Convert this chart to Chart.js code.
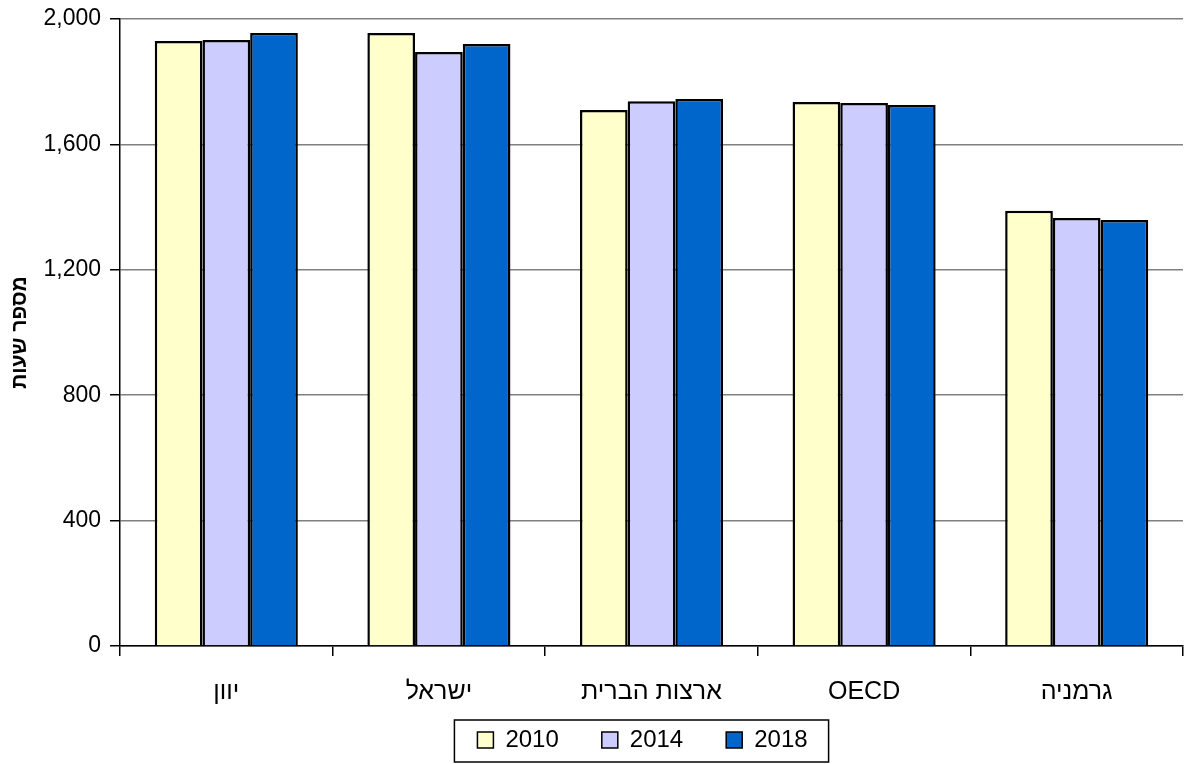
<!DOCTYPE html>
<html>
<head>
<meta charset="utf-8">
<script src="https://cdn.jsdelivr.net/npm/chart.js@4.4.1/dist/chart.umd.min.js"></script>
<style>
  html, body { margin: 0; padding: 0; background: #fff; }
  #wrap { width: 1184px; height: 764px; }
</style>
</head>
<body>
<div id="wrap"><canvas id="chart" width="1184" height="764"></canvas></div>
<script>
const categories = ['יוון', 'ישראל', 'ארצות הברית', 'OECD', 'גרמניה'];
const years = ['2010', '2014', '2018'];
const hours2010 = [1930, 1955, 1710, 1735, 1388];
const hours2014 = [1933, 1895, 1738, 1732, 1365];
const hours2018 = [1955, 1920, 1745, 1726, 1359];
const yTicks = [0, 400, 800, 1200, 1600, 2000];
const colors = ['#FFFFCC', '#CCCCFF', '#0066CC'];

const FONT = 'Liberation Sans, Arial, sans-serif';
const LEGEND_SHIFT = 51;

// moves the legend a bit to the right, and lets the x labels run into the legend's space
const legendShift = {
  id: 'legendShift',
  afterLayout(chart) {
    chart.legend.left += LEGEND_SHIFT;
    chart.legend.right += LEGEND_SHIFT;
    chart.scales.x.bottom += 30;
    chart.scales.x.height += 30;
  }
};

// draws the black frame round the legend items
const legendFrame = {
  id: 'legendFrame',
  afterDraw(chart) {
    const boxes = chart.legend.legendHitBoxes;
    if (!boxes || !boxes.length) return;
    const ctx = chart.ctx;
    const left = Math.min(...boxes.map(b => b.left)) - 23;
    const right = Math.max(...boxes.map(b => b.left + b.width)) + 21;
    const top = Math.min(...boxes.map(b => b.top)) - 8;
    const bottom = Math.max(...boxes.map(b => b.top + b.height)) + 10;
    ctx.save();
    ctx.strokeStyle = '#000';
    ctx.lineWidth = 1.5;
    ctx.strokeRect(left, top, right - left, bottom - top);
    ctx.restore();
  }
};

const ctx = document.getElementById('chart').getContext('2d');
new Chart(ctx, {
  type: 'bar',
  data: {
    labels: categories,
    datasets: [hours2010, hours2014, hours2018].map((d, i) => ({
      label: years[i],
      data: d,
      backgroundColor: colors[i],
      borderColor: '#000',
      borderWidth: 2.5,
      categoryPercentage: 0.673,
      barPercentage: 1.0
    }))
  },
  options: {
    responsive: false,
    animation: false,
    layout: { padding: { top: 19, right: 1, left: 0, bottom: 2 } },
    plugins: {
      legend: {
        position: 'bottom',
        labels: {
          font: { family: FONT, size: 24 },
          color: '#000',
          boxWidth: 16,
          boxHeight: 16,
          padding: 43,
          generateLabels(chart) {
            return chart.data.datasets.map((ds, i) => ({
              text: ds.label,
              fillStyle: ds.backgroundColor,
              strokeStyle: '#000',
              lineWidth: 1.5,
              datasetIndex: i,
              fontColor: '#000'
            }));
          }
        }
      },
      tooltip: { enabled: false }
    },
    scales: {
      x: {
        afterFit(scale) { scale.height = 39; },
        border: { color: '#000', width: 1.5 },
        grid: {
          offset: true,
          drawOnChartArea: false,
          drawTicks: true,
          tickLength: 10,
          color: '#000',
          lineWidth: 1.5
        },
        ticks: {
          font: { family: FONT, size: 25 },
          color: '#000',
          padding: 21
        }
      },
      y: {
        min: 0,
        max: 2000,
        afterFit(scale) {
          scale.width = 120;
          scale.paddingTop = 10;
          scale.paddingBottom = 10;
        },
        afterBuildTicks(scale) { scale.ticks = yTicks.map(v => ({ value: v })); },
        border: { color: '#000', width: 1.5 },
        grid: {
          color: '#808080',
          lineWidth: 1.5,
          tickLength: 10,
          tickColor: '#000'
        },
        ticks: {
          font: { family: FONT, size: 23 },
          color: '#000',
          padding: 9,
          callback: v => v.toLocaleString('en-US')
        },
        title: {
          display: true,
          text: 'מספר שעות',
          font: { family: FONT, size: 21, weight: 'bold' },
          color: '#000',
          padding: { top: 8, bottom: 0 }
        }
      }
    }
  },
  plugins: [legendShift, legendFrame]
});
</script>
</body>
</html>
